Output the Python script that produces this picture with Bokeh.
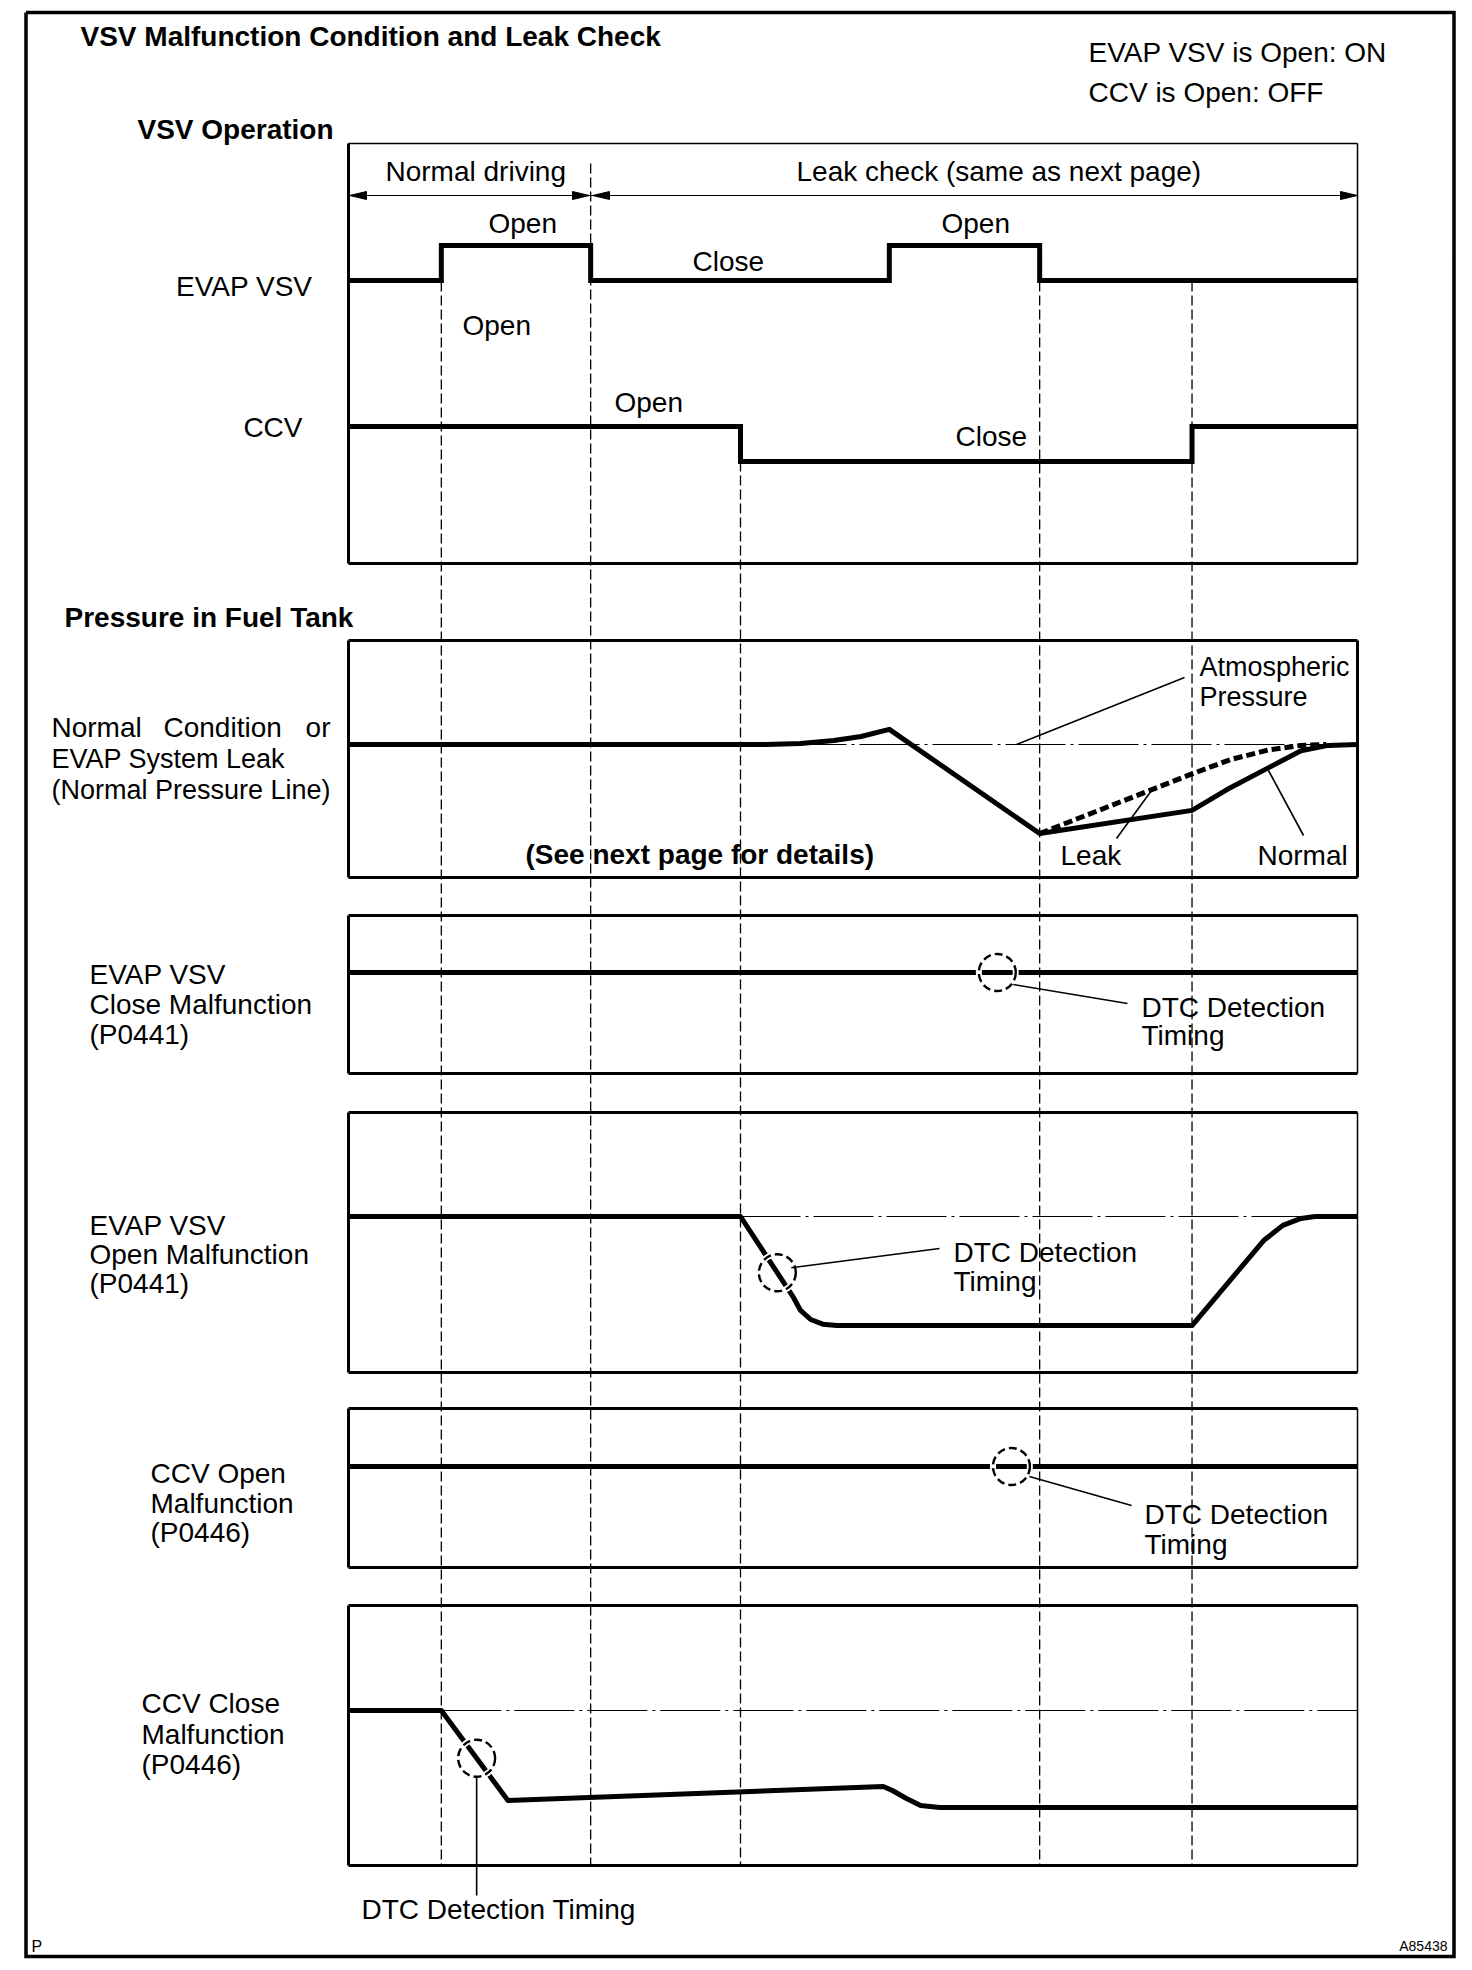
import numpy as np
from bokeh.plotting import figure
from bokeh.models import Range1d
from bokeh.core.properties import value
from bokeh.embed import file_html
from bokeh.resources import INLINE

# ------------------------------------------------------------------ data
# time axis of the timing chart: 0 .. 100 (arbitrary units)
evap_vsv_t = [0, 9.2, 24.0, 53.6, 68.5, 100]
evap_vsv_state = [0, 1, 0, 1, 0, 0]            # 1 = Open (ON), 0 = Close
ccv_t = [0, 38.85, 83.6, 100]
ccv_state = [1, 0, 1, 1]                       # 1 = Open, 0 = Close
boundary_t = [9.2, 24.0, 38.85, 68.5, 83.6]    # dashed timing lines

# tank pressure (0 = atmospheric, negative = vacuum), arbitrary units
normal_t = [0, 41.4, 44.8, 48.1, 50.8, 53.6, 68.5, 83.6, 87.4, 91.2, 94.4, 97.1, 100]
normal_p = [0, 0, 0.01, 0.045, 0.09, 0.17, -1.0, -0.74, -0.485, -0.26, -0.07, -0.01, 0]
leak_t = [68.5, 83.6, 87.4, 91.2, 94.4, 96.9]
leak_p = [-1.0, -0.33, -0.17, -0.06, -0.01, 0]

close_mal_t = [0, 100]
close_mal_p = [0, 0]
open_mal_t = [0, 38.85, 44.1, 44.8, 45.8, 47.0, 48.4, 83.6, 90.7, 92.6, 94.4, 95.8, 100]
open_mal_p = [0, 0, -0.91, -1.056, -1.157, -1.21, -1.225, -1.225, -0.27, -0.10, -0.022, 0, 0]
ccv_open_mal_t = [0, 100]
ccv_open_mal_p = [0, 0]
ccv_close_mal_t = [0, 9.2, 15.8, 53.0, 53.9, 55.3, 56.7, 58.6, 100]
ccv_close_mal_p = [0, 0, -1.011, -0.854, -0.899, -0.989, -1.067, -1.09, -1.09]

dtc_t = [64.3, 42.5, 65.7, 12.7]   # DTC detection timing per malfunction panel

# ---------------------------------------------------------------- layout
W, H = 1464, 1964
X0, X1, Y0, Y1 = 0, W, 0, H
PX0, PX1 = 348, 1357              # chart panels left/right
SX = (PX1 - PX0) / 100.0
PSCALE = 89.0                     # px per pressure unit
VSCALE = 35.0                     # px per valve state

FONT = value("Liberation Sans")

p = figure(width=W, height=H, x_range=Range1d(X0, X1), y_range=Range1d(Y1, Y0),
           output_backend="svg", toolbar_location=None,
           x_axis_type=None, y_axis_type=None, min_border=0,
           outline_line_color=None, background_fill_color="white",
           border_fill_color="white")
p.grid.visible = False

p.extra_x_ranges = {"t": Range1d(start=(X0 - PX0) / SX, end=(X1 - PX0) / SX)}


def add_yr(name, base, scale):
    p.extra_y_ranges[name] = Range1d(start=(base - Y1) / scale, end=(base - Y0) / scale)


add_yr("evap", 280, VSCALE)
add_yr("ccv", 461, VSCALE)
add_yr("press", 744, PSCALE)
add_yr("p3", 972, PSCALE)
add_yr("p4", 1216, PSCALE)
add_yr("p5", 1466, PSCALE)
add_yr("p6", 1710, PSCALE)
bases = {"press": 744, "p3": 972, "p4": 1216, "p5": 1466, "p6": 1710}


def tx(t):
    return PX0 + t * SX


def txt(xs, ys, texts, size=28, bold=False, align="left"):
    dy = -0.4 * size
    p.text(x=xs, y=[y + dy for y in ys], text=texts, text_font=FONT,
           text_font_size=f"{size}px",
           text_font_style="bold" if bold else "normal", text_align=align,
           text_baseline="alphabetic", text_color="black")


# outer frame
p.line([25.5, 1453.5, 1453.5, 25.5, 25.5], [12, 12, 1956, 1956, 12],
       line_width=3.5, color="black", line_join="miter")

# panels: (top, bottom, top_w, right_w)
panels = [(143, 563, 1.5, 1.5), (640, 877, 3, 3), (915, 1073, 3, 1.5),
          (1112, 1372, 3, 1.5), (1408, 1567, 3, 1.5), (1605, 1865, 3, 1.5)]
for top, bot, tw, rw in panels:
    p.segment(x0=[PX0, PX0], y0=[top, bot], x1=[PX0, PX1], y1=[bot, bot],
              line_width=3, color="black")
    p.segment(x0=[PX0], y0=[top], x1=[PX1], y1=[top], line_width=tw, color="black")
    p.segment(x0=[PX1], y0=[top], x1=[PX1], y1=[bot], line_width=rw, color="black")

# dashed timing lines
line_start_y = [281, 163, 461, 281, 281]
p.segment(x0=boundary_t, y0=line_start_y, x1=boundary_t, y1=[1865] * 5,
          x_range_name="t", line_width=1.3, color="black", line_dash="10 4")

# reference (atmospheric) lines
ref_kw = dict(line_width=1, color="black", line_dash="60 5 3 5")
p.line([0, 100], [0, 0], x_range_name="t", y_range_name="press", **ref_kw)
p.line([open_mal_t[1], 100], [0, 0], x_range_name="t", y_range_name="p4", **ref_kw)
p.line([ccv_close_mal_t[1], 100], [0, 0], x_range_name="t", y_range_name="p6", **ref_kw)

# valve operation
p.step(evap_vsv_t, evap_vsv_state, mode="after", x_range_name="t", y_range_name="evap",
       line_width=5, color="black", line_join="miter")
p.step(ccv_t, ccv_state, mode="after", x_range_name="t", y_range_name="ccv",
       line_width=5, color="black", line_join="miter")

# pressure curves
sig = dict(line_width=5, color="black", line_join="round")
p.line(normal_t, normal_p, x_range_name="t", y_range_name="press", **sig)
p.line(leak_t, leak_p, x_range_name="t", y_range_name="press", line_width=5,
       color="black", line_dash="9 4")
p.line(close_mal_t, close_mal_p, x_range_name="t", y_range_name="p3", **sig)
p.line(open_mal_t, open_mal_p, x_range_name="t", y_range_name="p4", **sig)
p.line(ccv_open_mal_t, ccv_open_mal_p, x_range_name="t", y_range_name="p5", **sig)
p.line(ccv_close_mal_t, ccv_close_mal_p, x_range_name="t", y_range_name="p6", **sig)

# DTC detection circles
series = [("p3", close_mal_t, close_mal_p), ("p4", open_mal_t, open_mal_p),
          ("p5", ccv_open_mal_t, ccv_open_mal_p), ("p6", ccv_close_mal_t, ccv_close_mal_p)]
centers = []
for (rn, ts, ps), td in zip(series, dtc_t):
    lv = float(np.interp(td, ts, ps))
    p.scatter([td], [lv], x_range_name="t", y_range_name=rn, marker="circle", size=37,
              fill_color=None, line_color="white", line_width=6)
    p.scatter([td], [lv], x_range_name="t", y_range_name=rn, marker="circle", size=37,
              fill_color=None, line_color="black", line_width=2.4, line_dash="8 4")
    centers.append((tx(td), bases[rn] - lv * PSCALE))

# leaders
lead = dict(line_width=1.6, color="black")
(c3x, c3y), (c4x, c4y), (c5x, c5y), (c6x, c6y) = centers
p.segment(x0=[1016, 1116, 1303, c3x + 16, c4x + 14, c5x + 18, c6x],
          y0=[744, 838, 835, c3y + 12, c4y - 5, c5y + 10, c6y + 19],
          x1=[1184, 1151, 1268, 1127, 939, 1131, c6x],
          y1=[677, 790, 770, 1003, 1248, 1505, 1895], **lead)

# arrows for the phases
p.segment(x0=[PX0, tx(boundary_t[1])], y0=[195, 195], x1=[tx(boundary_t[1]), PX1], y1=[195, 195],
          line_width=1.2, color="black")
heads = [(349, 1), (589, -1), (592, 1), (1357, -1)]
hx, hy = [], []
for tip, d in heads:
    hx.append([tip, tip + d * 17, tip + d * 17])
    hy.append([195, 191, 199])
p.patches(hx, hy, color="black", line_width=1)

# ------------------------------------------------------------------ texts
txt([80], [47], ["VSV Malfunction Condition and Leak Check"], bold=True)
txt([1088, 1088], [63, 103], ["EVAP VSV is Open: ON", "CCV is Open: OFF"])
txt([137], [140], ["VSV Operation"], bold=True)
txt([385, 796], [182, 182], ["Normal driving", "Leak check (same as next page)"])
txt([488, 941, 692, 462, 614, 955], [234, 234, 272, 336, 413, 447],
    ["Open", "Open", "Close", "Open", "Open", "Close"])
txt([312, 302], [297, 438], ["EVAP VSV", "CCV"], align="right")

txt([64], [628], ["Pressure in Fuel Tank"], bold=True)
txt([51, 163], [738, 738], ["Normal", "Condition"])
txt([330], [738], ["or"], align="right")
txt([51, 51], [769, 800], ["EVAP System Leak", "(Normal Pressure Line)"], size=27)
txt([525], [865], ["(See next page for details)"], bold=True)
txt([1199, 1199], [677, 707], ["Atmospheric", "Pressure"], size=27)
txt([1060, 1257], [866, 866], ["Leak", "Normal"])

txt([89, 89, 89], [985, 1015, 1045], ["EVAP VSV", "Close Malfunction", "(P0441)"])
txt([1141, 1141], [1018, 1046], ["DTC Detection", "Timing"])
txt([89, 89, 89], [1236, 1265, 1294], ["EVAP VSV", "Open Malfunction", "(P0441)"])
txt([953, 953], [1263, 1292], ["DTC Detection", "Timing"])
txt([150, 150, 150], [1484, 1514, 1543], ["CCV Open", "Malfunction", "(P0446)"])
txt([1144, 1144], [1525, 1555], ["DTC Detection", "Timing"])
txt([141, 141, 141], [1714, 1745, 1775], ["CCV Close", "Malfunction", "(P0446)"])
txt([361], [1920], ["DTC Detection Timing"])
txt([31], [1952], ["P"], size=16)
txt([1447], [1951], ["A85438"], size=14, align="right")

open("out.html", "w").write(file_html(p, INLINE))
